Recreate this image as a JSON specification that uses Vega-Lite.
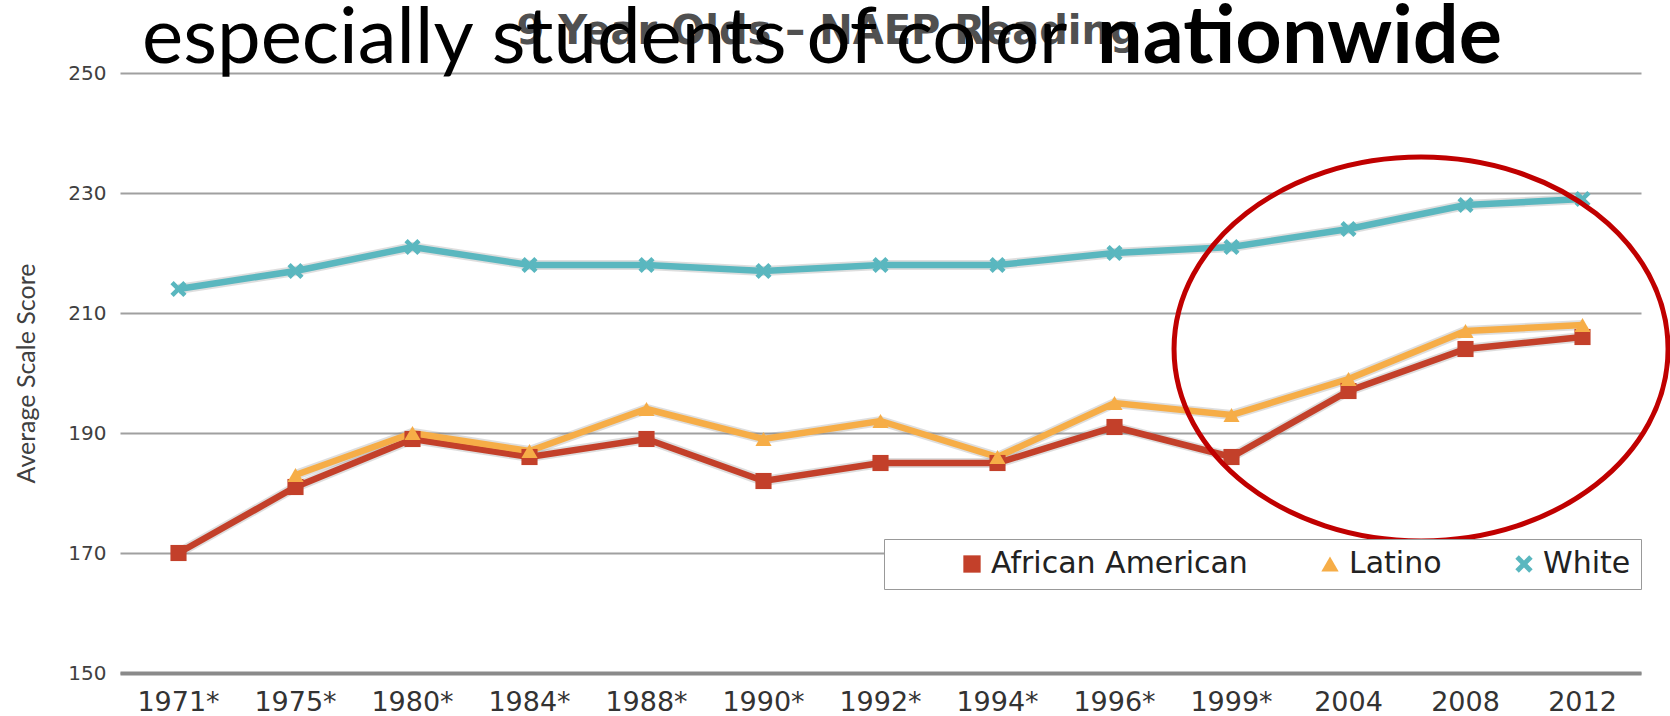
{
  "$schema": "https://vega.github.io/schema/vega-lite/v6.json",
  "width": 1521,
  "height": 600,
  "autosize": {"type": "none"},
  "padding": {"left": 120, "top": 73, "right": 29, "bottom": 43},
  "background": "white",
  "config": {"view": {"stroke": null}},
  "datasets": {
    "scores": [
      {"year": "1971*", "group": "African American", "score": 170},
      {"year": "1975*", "group": "African American", "score": 181},
      {"year": "1980*", "group": "African American", "score": 189},
      {"year": "1984*", "group": "African American", "score": 186},
      {"year": "1988*", "group": "African American", "score": 189},
      {"year": "1990*", "group": "African American", "score": 182},
      {"year": "1992*", "group": "African American", "score": 185},
      {"year": "1994*", "group": "African American", "score": 185},
      {"year": "1996*", "group": "African American", "score": 191},
      {"year": "1999*", "group": "African American", "score": 186},
      {"year": "2004", "group": "African American", "score": 197},
      {"year": "2008", "group": "African American", "score": 204},
      {"year": "2012", "group": "African American", "score": 206},
      {"year": "1975*", "group": "Latino", "score": 183},
      {"year": "1980*", "group": "Latino", "score": 190},
      {"year": "1984*", "group": "Latino", "score": 187},
      {"year": "1988*", "group": "Latino", "score": 194},
      {"year": "1990*", "group": "Latino", "score": 189},
      {"year": "1992*", "group": "Latino", "score": 192},
      {"year": "1994*", "group": "Latino", "score": 186},
      {"year": "1996*", "group": "Latino", "score": 195},
      {"year": "1999*", "group": "Latino", "score": 193},
      {"year": "2004", "group": "Latino", "score": 199},
      {"year": "2008", "group": "Latino", "score": 207},
      {"year": "2012", "group": "Latino", "score": 208},
      {"year": "1971*", "group": "White", "score": 214},
      {"year": "1975*", "group": "White", "score": 217},
      {"year": "1980*", "group": "White", "score": 221},
      {"year": "1984*", "group": "White", "score": 218},
      {"year": "1988*", "group": "White", "score": 218},
      {"year": "1990*", "group": "White", "score": 217},
      {"year": "1992*", "group": "White", "score": 218},
      {"year": "1994*", "group": "White", "score": 218},
      {"year": "1996*", "group": "White", "score": 220},
      {"year": "1999*", "group": "White", "score": 221},
      {"year": "2004", "group": "White", "score": 224},
      {"year": "2008", "group": "White", "score": 228},
      {"year": "2012", "group": "White", "score": 229}
    ],
    "circle": [{"year": "2008", "score": 204}],
    "charttitle": [{"year": "1992*", "score": 250, "label": "9 Year Olds – NAEP Reading"}],
    "headline1": [{"year": "1971*", "score": 250, "label": "especially students of color"}],
    "headline2": [{"year": "2004", "score": 250, "label": "nationwide"}]
  },
  "layer": [
    {
      "data": {"name": "scores"},
      "mark": {"type": "line", "strokeWidth": 10, "color": "#7a7a7a", "opacity": 0.25},
      "encoding": {
        "x": {"field": "year", "type": "ordinal", "sort": null,
              "scale": {"type": "band", "paddingInner": 0, "paddingOuter": 0},
              "axis": {"title": null, "labelAngle": 0, "ticks": false, "domain": true, "domainColor": "#8a8a8a", "domainWidth": 4, "labelFont": "DejaVu Sans", "labelFontSize": 27, "labelColor": "#333333", "labelPadding": 16, "grid": false}},
        "y": {"field": "score", "type": "quantitative",
              "scale": {"domain": [150, 250], "nice": false, "zero": false},
              "axis": {"title": "Average Scale Score", "titleFont": "Lato", "titleFontSize": 25, "titleFontWeight": "normal", "titleColor": "#404040", "titlePadding": 28, "values": [150, 170, 190, 210, 230, 250], "ticks": false, "domain": false, "grid": true, "gridColor": "#a0a0a0", "gridWidth": 2, "labelFont": "DejaVu Sans", "labelFontSize": 20, "labelColor": "#404040", "labelPadding": 14}},
        "detail": {"field": "group", "type": "nominal"}
      }
    },
    {
      "data": {"name": "scores"},
      "mark": {"type": "line", "strokeWidth": 6.5},
      "encoding": {
        "x": {"field": "year", "type": "ordinal", "sort": null},
        "y": {"field": "score", "type": "quantitative"},
        "color": {"field": "group", "type": "nominal",
                  "scale": {"domain": ["African American", "Latino", "White"], "range": ["#c3402a", "#f6ad47", "#5ab7bf"]},
                  "legend": {"title": null, "orient": "none", "legendX": 764, "legendY": 466, "direction": "horizontal", "columns": 3, "columnPadding": 4, "labelFont": "DejaVu Sans", "labelFontSize": 30, "labelColor": "#222222", "labelLimit": 400, "symbolSize": 300, "symbolStrokeWidth": 0, "strokeColor": "#999999", "fillColor": "white", "padding": 10, "symbolOffset": 63, "labelOffset": 4}}
      }
    },
    {
      "data": {"name": "scores"},
      "mark": {"type": "point", "filled": true, "opacity": 1, "size": 260},
      "encoding": {
        "x": {"field": "year", "type": "ordinal", "sort": null},
        "y": {"field": "score", "type": "quantitative"},
        "color": {"field": "group", "type": "nominal"},
        "shape": {"field": "group", "type": "nominal",
                  "scale": {"domain": ["African American", "Latino", "White"], "range": ["square", "triangle-up", "M-1,-0.6L-0.6,-1L0,-0.4L0.6,-1L1,-0.6L0.4,0L1,0.6L0.6,1L0,0.4L-0.6,1L-1,0.6L-0.4,0Z"]},
                  "legend": {"title": null}}
      }
    },
    {
      "data": {"name": "circle"},
      "mark": {"type": "point", "shape": "M-1,0A1,0.777 0 1,0 1,0A1,0.777 0 1,0 -1,0Z", "size": 244036, "filled": false, "stroke": "#c00000", "strokeWidth": 5, "opacity": 1},
      "encoding": {
        "x": {"field": "year", "type": "ordinal", "sort": null, "bandPosition": 0.12},
        "y": {"field": "score", "type": "quantitative"}
      }
    },
    {
      "data": {"name": "charttitle"},
      "mark": {"type": "text", "font": "DejaVu Sans", "fontSize": 40, "fontWeight": "bold", "color": "#505050", "align": "center", "baseline": "alphabetic", "dx": -53, "dy": -29},
      "encoding": {
        "x": {"field": "year", "type": "ordinal", "sort": null},
        "y": {"field": "score", "type": "quantitative"},
        "text": {"field": "label"}
      }
    },
    {
      "data": {"name": "headline1"},
      "mark": {"type": "text", "font": "Lato", "fontSize": 78, "fontWeight": "normal", "color": "black", "align": "left", "baseline": "alphabetic", "dx": -36.5, "dy": -10},
      "encoding": {
        "x": {"field": "year", "type": "ordinal", "sort": null},
        "y": {"field": "score", "type": "quantitative"},
        "text": {"field": "label"}
      }
    },
    {
      "data": {"name": "headline2"},
      "mark": {"type": "text", "font": "Lato", "fontSize": 81, "fontWeight": "bold", "color": "black", "align": "left", "baseline": "alphabetic", "dx": -251.5, "dy": -10},
      "encoding": {
        "x": {"field": "year", "type": "ordinal", "sort": null},
        "y": {"field": "score", "type": "quantitative"},
        "text": {"field": "label"}
      }
    }
  ]
}
